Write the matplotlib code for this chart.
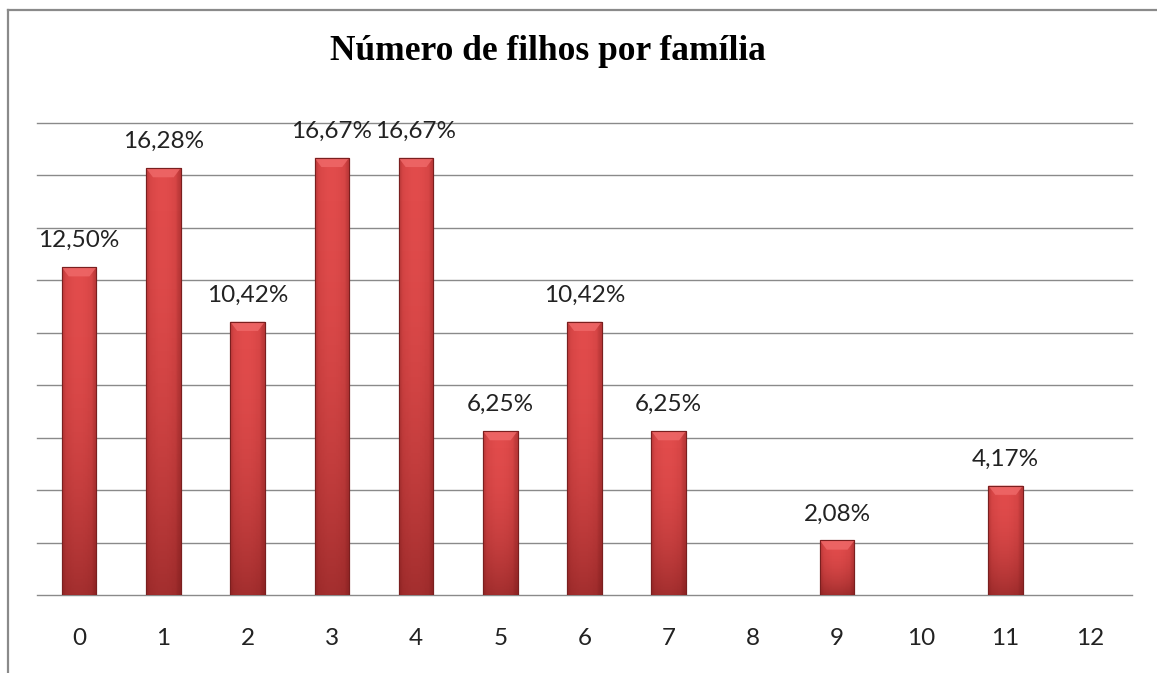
import numpy as np
import matplotlib
matplotlib.use("Agg")
import matplotlib.pyplot as plt
from matplotlib.lines import Line2D
from matplotlib.colors import LinearSegmentedColormap

categories = ["0", "1", "2", "3", "4", "5", "6", "7", "8", "9", "10", "11", "12"]
values = [12.50, 16.28, 10.42, 16.67, 16.67, 6.25, 10.42, 6.25, 0, 2.08, 0, 4.17, 0]
labels = ["12,50%", "16,28%", "10,42%", "16,67%", "16,67%", "6,25%", "10,42%", "6,25%",
          "", "2,08%", "", "4,17%", ""]
title = "Número de filhos por família"

fig = plt.figure(figsize=(11.57, 6.73), dpi=100)
fig.patch.set_facecolor("white")
ax = fig.add_axes([37/1157, 1-595/673, (1132-37)/1157, (595-123)/673])

x = np.arange(len(categories))
width = 0.41
bars = ax.bar(x, values, width=width, color="#c83c3c", edgecolor="#7a1f1f",
              linewidth=0.8, zorder=3)

hgrad = np.array([[0.35, 0.7, 0.9, 1.0, 0.95, 0.85, 0.6, 0.3]])
cmap = LinearSegmentedColormap.from_list("r", ["#8c2323", "#d64545", "#e24c4c"])
for b, v in zip(bars, values):
    if v <= 0:
        b.set_visible(False)
        continue
    x0 = b.get_x(); w = b.get_width()
    im = ax.imshow(hgrad, extent=[x0, x0 + w, 0, v], aspect="auto", cmap=cmap,
                   vmin=0, vmax=1, zorder=3.5, interpolation="bicubic")
    im.set_clip_path(b)
    vgrad = np.linspace(0, 1, 50).reshape(-1, 1)
    img = np.zeros((50, 1, 4))
    img[..., 0] = 0.35; img[..., 1] = 0.05; img[..., 2] = 0.05
    img[..., 3] = np.clip(0.45 * (1 - vgrad) ** 2, 0, 1)
    im2 = ax.imshow(img, extent=[x0, x0 + w, 0, v], aspect="auto", origin="lower",
                    zorder=3.6, interpolation="bicubic")
    im2.set_clip_path(b)
    ax.fill([x0, x0 + w, x0 + w * 0.8, x0 + w * 0.2],
            [v, v, v - 0.35, v - 0.35], color="#f06a6a", alpha=0.8, zorder=3.7, lw=0)
    ax.bar(b.get_x() + w / 2, v, width=w, fill=False, edgecolor="#7a1f1f",
           linewidth=0.8, zorder=3.8)

for xi, v, lab in zip(x, values, labels):
    if lab:
        ax.annotate(lab, (xi, v), xytext=(0, 19), textcoords="offset points",
                    ha="center", va="center", fontsize=17.5, family="Lato", color="#222222")

ax.set_xlim(-0.5, len(categories) - 0.5)
ax.set_ylim(0, 18)
ax.set_yticks(np.arange(0, 19, 2))
ax.set_yticklabels([])
ax.tick_params(axis="y", length=0)
ax.tick_params(axis="x", length=0, pad=24, labelsize=17.5, labelcolor="#222222")
ax.set_xticks(x)
ax.set_xticklabels(categories, family="Lato")
ax.grid(axis="y", color="#8a8a8a", linewidth=1.0, zorder=0)
for gl in ax.get_ygridlines():
    gl.set_clip_on(False)
ax.set_axisbelow(True)
for s in ax.spines.values():
    s.set_visible(False)

fig.text(548/1157, 1 - 52/673, title, ha="center", va="center", fontsize=25.5,
         fontweight="bold", family="Liberation Serif", color="black")

fig.add_artist(Line2D([8/1157, 8/1157], [0, 1 - 10/673], transform=fig.transFigure,
                      color="#8a8a8a", linewidth=1.6))
fig.add_artist(Line2D([8/1157, 1], [1 - 10/673, 1 - 10/673], transform=fig.transFigure,
                      color="#8a8a8a", linewidth=1.6))

fig.savefig("out.png", dpi=100, facecolor="white")
